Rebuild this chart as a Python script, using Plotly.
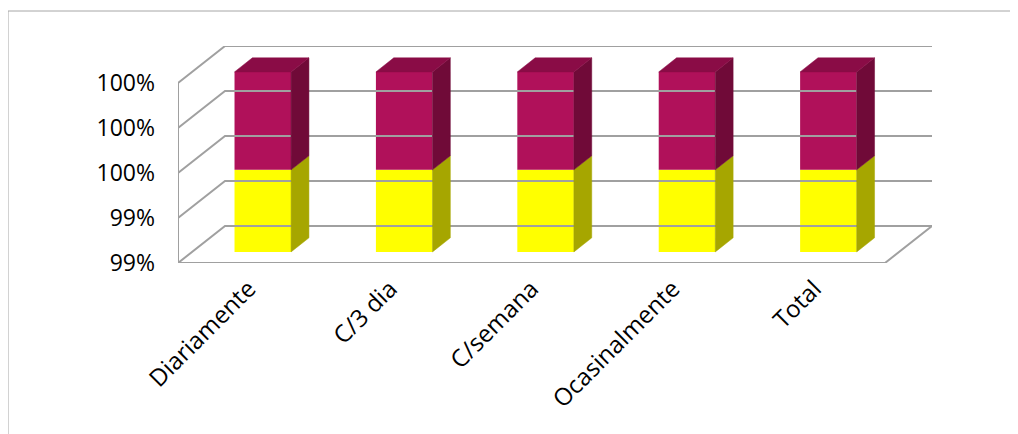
import plotly.graph_objects as go

# ---- data ----
categories = ["Diariamente", "C/3 dia", "C/semana", "Ocasinalmente", "Total"]
series_yellow = [0.99456, 0.99456, 0.99456, 0.99456, 0.99456]   # bottom segment (share)
series_magenta = [0.00544, 0.00544, 0.00544, 0.00544, 0.00544]  # top segment (share)
tick_values = [0.99, 0.9925, 0.995, 0.9975, 1.0]
tick_labels = ["99%", "99%", "100%", "100%", "100%"]

# ---- styling / pseudo-3D geometry ----
W, H = 1018, 434
OFF = 8  # page body margin compensation
ML, MR, MT, MB = 178 - OFF, 86 + OFF, 46 - OFF, 171 + OFF
Y_MIN, Y_MAX = 0.99, 1.0
n = len(categories)
px_x = 141.4
px_y = 18000.0
DX = 47 / px_x          # depth offset in x units
DY = 37 / px_y          # depth offset in y units
FD, FB = 0.30, 0.68     # bar front/back depth fractions
HW = 0.20               # bar half width

YEL, YEL_SIDE = "#FFFF00", "#A6A600"
MAG, MAG_SIDE, MAG_TOP = "#B0115A", "#700A38", "#8A0C46"
GRID = "#A0A0A0"

fig = go.Figure()

# walls / gridlines
for v in tick_values:
    fig.add_trace(go.Scatter(x=[-0.5, -0.5 + DX, n - 0.5 + DX], y=[v, v + DY, v + DY],
                             mode="lines", line=dict(color=GRID, width=2),
                             hoverinfo="skip", showlegend=False))
# floor front + right edge, left front vertical
fig.add_trace(go.Scatter(x=[-0.5, n - 0.5, n - 0.5 + DX], y=[Y_MIN, Y_MIN, Y_MIN + DY],
                         mode="lines", line=dict(color=GRID, width=2),
                         hoverinfo="skip", showlegend=False))
fig.add_trace(go.Scatter(x=[-0.5, -0.5], y=[Y_MIN, Y_MAX],
                         mode="lines", line=dict(color=GRID, width=2),
                         hoverinfo="skip", showlegend=False))

def poly(xs, ys, color):
    fig.add_trace(go.Scatter(x=xs + [xs[0]], y=ys + [ys[0]], mode="lines", fill="toself",
                             fillcolor=color, line=dict(color=color, width=0.5),
                             hoverinfo="skip", showlegend=False))

for i in range(n):
    segs = [(Y_MIN, series_yellow[i], YEL, YEL_SIDE, None),
            (series_yellow[i], series_yellow[i] + series_magenta[i], MAG, MAG_SIDE, MAG_TOP)]
    for lo, hi, front, side, top in segs:
        lo = max(lo, Y_MIN)
        xr = i + HW
        xl = i - HW
        # right side face
        poly([xr + FD * DX, xr + FB * DX, xr + FB * DX, xr + FD * DX],
             [lo + FD * DY, lo + FB * DY, hi + FB * DY, hi + FD * DY], side)
        if top is not None:
            poly([xl + FD * DX, xr + FD * DX, xr + FB * DX, xl + FB * DX],
                 [hi + FD * DY, hi + FD * DY, hi + FB * DY, hi + FB * DY], top)

# front faces as real bars
fig.add_trace(go.Bar(x=[i + FD * DX for i in range(n)],
                     y=[v - Y_MIN for v in series_yellow],
                     base=[Y_MIN + FD * DY] * n, width=2 * HW,
                     marker=dict(color=YEL, line=dict(width=0)), showlegend=False))
fig.add_trace(go.Bar(x=[i + FD * DX for i in range(n)],
                     y=series_magenta,
                     base=[v + FD * DY for v in series_yellow], width=2 * HW,
                     marker=dict(color=MAG, line=dict(width=0)), showlegend=False))

# chart border
pw, ph = W - ML - MR, H - MT - MB
fig.add_shape(type="rect", xref="paper", yref="paper",
              x0=(8 - OFF - ML) / pw, x1=(1030 - ML) / pw,
              y0=(H - MB - 440) / ph, y1=(H - MB - (11 - OFF)) / ph,
              line=dict(color="#A6A6A6", width=1), fillcolor="rgba(0,0,0,0)", layer="below")

fig.update_layout(
    width=W, height=H,
    margin=dict(l=ML, r=MR, t=MT, b=MB),
    paper_bgcolor="white", plot_bgcolor="white",
    barmode="overlay", showlegend=False,
    font=dict(family="Open Sans", size=20, color="#000000"),
    xaxis=dict(range=[-0.5, n - 0.5 + DX], tickvals=list(range(n)), ticktext=categories,
               tickangle=-45, showgrid=False, zeroline=False, showline=False,
               ticks="", ticklabelstandoff=6, tickfont=dict(size=24)),
    yaxis=dict(range=[Y_MIN, Y_MAX + DY], tickvals=tick_values, ticktext=tick_labels,
               showgrid=False, zeroline=False, showline=False, ticks="",
               ticklabelstandoff=22, tickfont=dict(size=23)),
)

fig.write_html("out.html")
